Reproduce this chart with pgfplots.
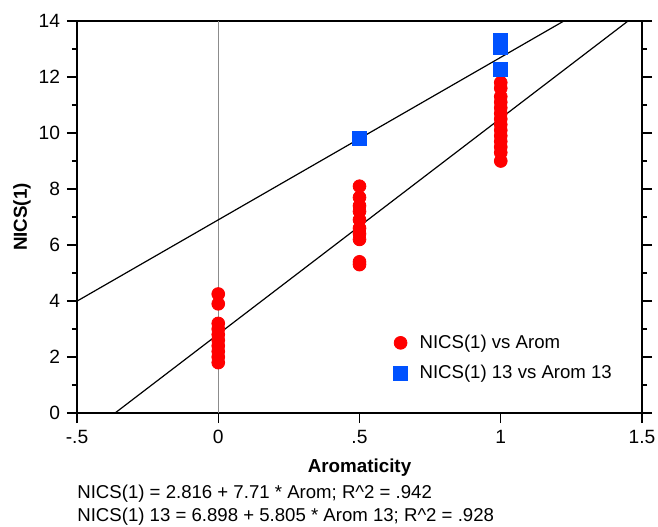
\documentclass[border=0pt]{standalone}
\usepackage{fontspec}
\setmainfont{Liberation Sans}
\usepackage{pgfplots}
\pgfplotsset{compat=1.18}
\definecolor{ptred}{RGB}{255,0,0}
\definecolor{ptblue}{RGB}{0,82,255}
\pgfplotsset{shortmark legend/.style={legend image code/.code={%
  \draw[mark repeat=2,mark phase=2,##1] plot coordinates {(0cm,0cm)(0.15cm,0cm)(0.3cm,0cm)};}}}
\begin{document}
\begin{tikzpicture}
\begin{axis}[
  scale only axis,
  width=282.5pt, height=196pt,
  xmin=-0.5, xmax=1.5, ymin=0, ymax=14,
  xtick={-0.5,0,0.5,1,1.5},
  xticklabels={-.5,0,.5,1,1.5},
  ytick={0,2,...,14},
  minor ytick={1,3,...,13},
  xtick pos=lower, ytick pos=both,
  tick align=outside,
  major tick length=5pt, minor tick length=2.5pt,
  axis line style={line width=0.6pt},
  tick style={line width=0.6pt, black},
  /pgf/number format/assume math mode=true,
  tick label style={font=\fontsize{9.6}{11}\selectfont},
  xlabel={Aromaticity}, ylabel={NICS(1)},
  label style={font=\fontsize{9.4}{11}\selectfont\bfseries},
  xlabel style={at={(axis description cs:0.5,0)}, anchor=center, yshift=-27.5pt},
  ylabel style={at={(axis description cs:0,0.5)}, anchor=center, yshift=27.5pt},
  legend style={at={(axis cs:0.598,3.1)}, anchor=north west, draw=none, fill=none,
    font=\fontsize{9.3}{11}\selectfont, row sep=3pt,
    /tikz/every odd column/.append style={column sep=4pt}},
  legend cell align=left,
]
\addplot[gray!90, line width=0.6pt, forget plot] coordinates {(0,0)(0,14)};
\addplot[black, line width=0.6pt, forget plot] coordinates {(-0.5,-1.039)(1.5,14.381)};
\addplot[black, line width=0.6pt, forget plot] coordinates {(-0.5,3.9955)(1.5,15.6055)};
\addplot[only marks, mark=*, mark size=3.2pt, color=ptred, shortmark legend]
  coordinates {
  (0,4.25)(0,3.9)(0,3.2)(0,3.0)(0,2.8)(0,2.6)(0,2.4)(0,2.2)(0,2.0)(0,1.8)
  (0.5,8.1)(0.5,7.7)(0.5,7.4)(0.5,7.2)(0.5,6.9)(0.5,6.6)(0.5,6.4)(0.5,6.2)(0.5,5.4)(0.5,5.3)
  (1,11.8)(1,11.6)(1,11.3)(1,11.1)(1,10.9)(1,10.7)(1,10.5)(1,10.3)(1,10.1)(1,9.9)(1,9.7)(1,9.5)(1,9.3)(1,9.0)
  };
\addlegendentry{NICS(1) vs Arom}
\addplot[only marks, mark=square*, mark size=3.5pt, color=ptblue, shortmark legend]
  coordinates {(0.5,9.82)(1,13.32)(1,13.04)(1,12.27)};
\addlegendentry{NICS(1) 13 vs Arom 13}
\end{axis}
\node[anchor=west, inner sep=0pt, font=\fontsize{9.3}{11}\selectfont] at (0,-40.5pt) {NICS(1) = 2.816 + 7.71 * Arom; R\textasciicircum 2 = .942};
\node[anchor=west, inner sep=0pt, font=\fontsize{9.3}{11}\selectfont] at (0,-52pt) {NICS(1) 13 = 6.898 + 5.805 * Arom 13; R\textasciicircum 2 = .928};
\pgfresetboundingbox
\path (-38.5pt,-56.5pt) rectangle (290.5pt,206.5pt);
\end{tikzpicture}
\end{document}
